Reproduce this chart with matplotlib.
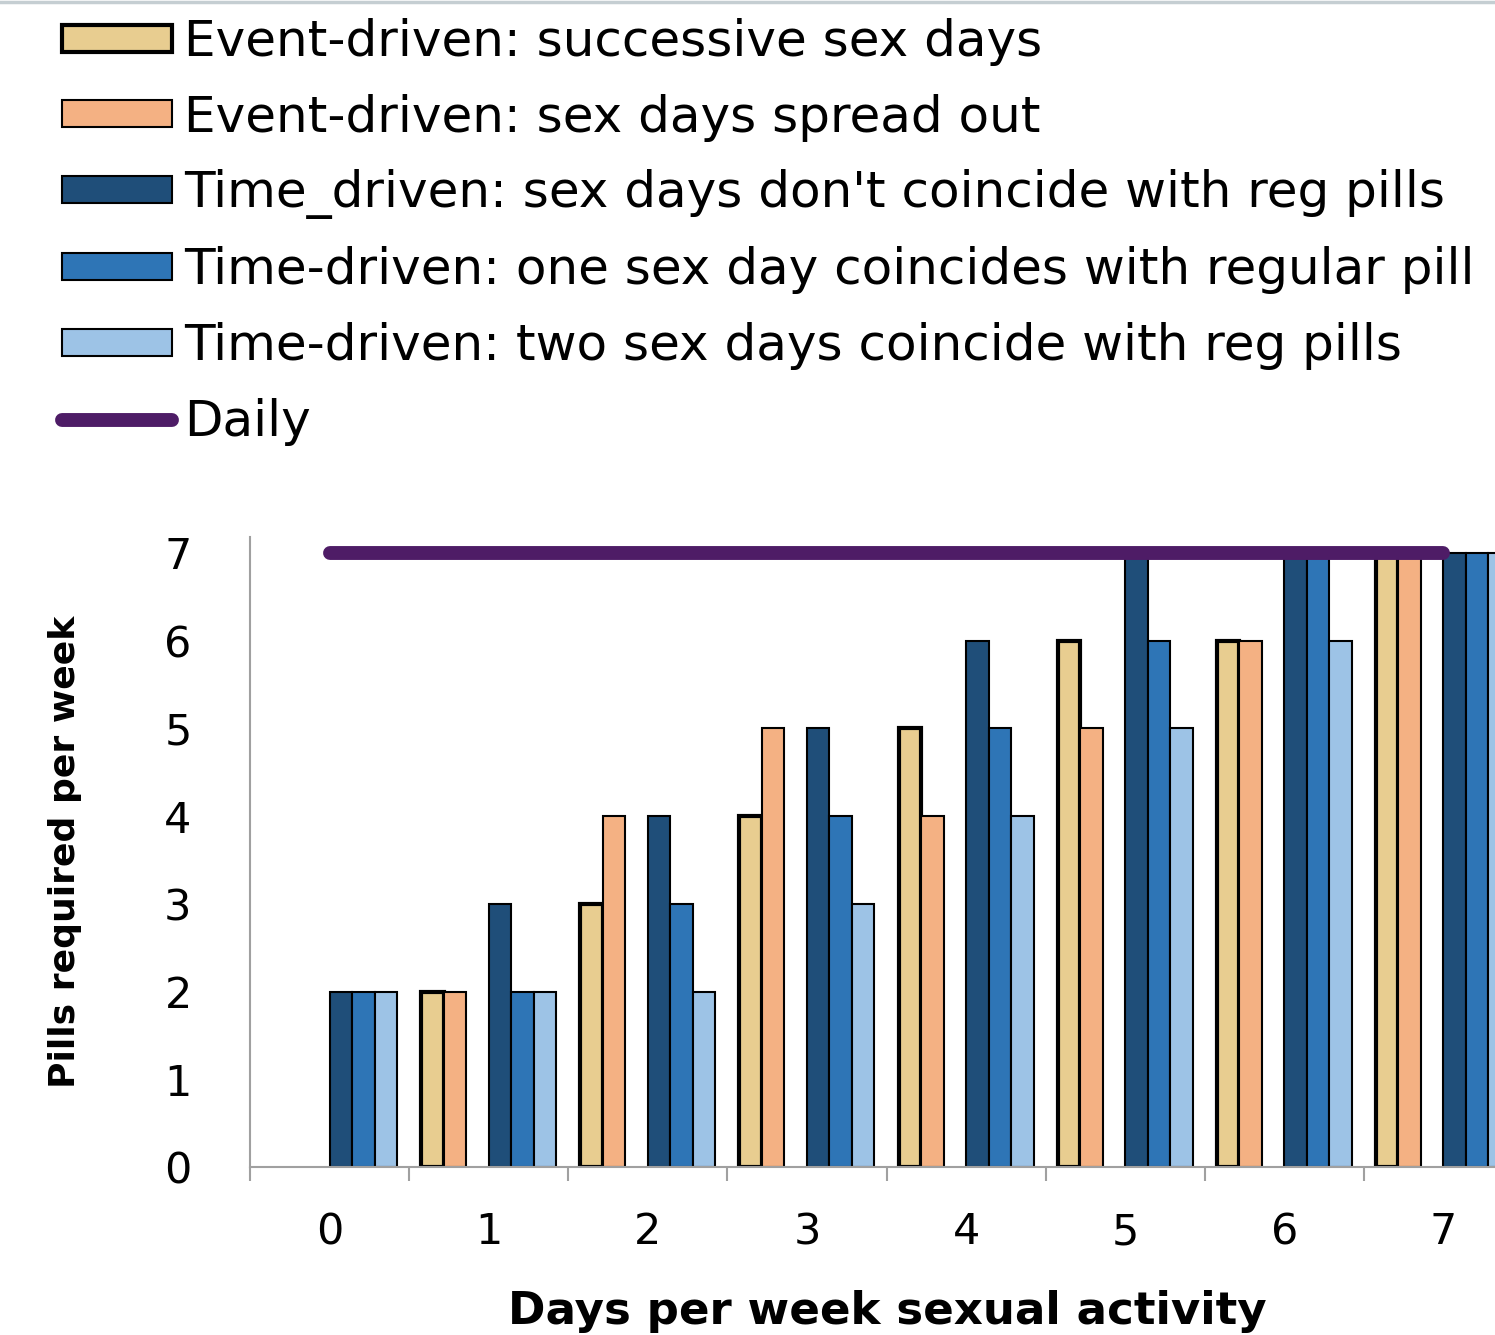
import matplotlib
matplotlib.use("Agg")
import matplotlib.pyplot as plt
import numpy as np
from matplotlib.lines import Line2D
from matplotlib.patches import Patch

# data
days = [0, 1, 2, 3, 4, 5, 6, 7]
successive = [0, 2, 3, 4, 5, 6, 6, 7]
spread_out = [0, 2, 4, 5, 4, 5, 6, 7]
no_coincide = [2, 3, 4, 5, 6, 7, 7, 7]
one_coincide = [2, 2, 3, 4, 5, 6, 7, 7]
two_coincide = [2, 2, 2, 3, 4, 5, 6, 7]
daily = [7, 7, 7, 7, 7, 7, 7, 7]

labels = [
    "Event-driven: successive sex days",
    "Event-driven: sex days spread out",
    "Time_driven: sex days don't coincide with reg pills",
    "Time-driven: one sex day coincides with regular pill",
    "Time-driven: two sex days coincide with reg pills",
    "Daily",
]
colors = ["#E8CD90", "#F4B183", "#1F4E79", "#2E75B6", "#9DC3E6"]
edge_widths = [3.0, 1.5, 1.5, 1.5, 1.5]
daily_color = "#4E1C66"

fig = plt.figure(figsize=(14.95, 13.35), dpi=100)
W, H = 1495, 1335

# axes run past the right edge, as in the cropped original
ax = fig.add_axes([250 / W, 168 / H, 1273 / W, 630 / H])

x = np.arange(len(days))
n_slots = 6
slot_w = 0.848 / n_slots
offsets = [-0.424 + slot_w * (i + 0.5) for i in range(n_slots)]
# slot 2 is left empty in the original layout
series = [successive, spread_out, None, no_coincide, one_coincide, two_coincide]

ci = 0
for slot, vals in enumerate(series):
    if vals is None:
        continue
    lws = [edge_widths[ci] if v > 0 else 0 for v in vals]
    ax.bar(x + offsets[slot], vals, width=slot_w, color=colors[ci],
           edgecolor="black", linewidth=lws, zorder=2)
    ci += 1

ax.plot(x, daily, color=daily_color, lw=10, solid_capstyle="round", zorder=3)

ax.set_xlim(-0.5, 7.5)
ax.set_ylim(0, 7.18)

for s in ["top", "right"]:
    ax.spines[s].set_visible(False)
ax.spines["left"].set_color("#A0A0A0")
ax.spines["bottom"].set_color("#A0A0A0")
ax.spines["left"].set_linewidth(1.5)
ax.spines["bottom"].set_linewidth(1.5)

ax.set_yticks(range(8))
ax.tick_params(axis="y", length=0, pad=42, labelsize=31)

ax.set_xticks(np.arange(-0.5, 8, 1.0))
ax.set_xticklabels([])
ax.tick_params(axis="x", which="major", length=10, width=1.5,
               color="#A0A0A0", direction="out")
ax.set_xticks(x, minor=True)
ax.set_xticklabels([str(d) for d in days], minor=True)
ax.tick_params(axis="x", which="minor", length=0, pad=32, labelsize=31)

ax.set_xlabel("Days per week sexual activity", fontsize=32.5,
              fontweight="bold")
ax.xaxis.set_label_coords((887 - 250) / 1273, -0.195)
ax.set_ylabel("Pills required per week", fontsize=26, fontweight="bold")
ax.yaxis.set_label_coords((82 - 250) / 1273, 0.5)

leg_handles = [Patch(facecolor=c, edgecolor="black", linewidth=lw)
               for c, lw in zip(colors, edge_widths)]
leg_handles.append(Line2D([0], [0], color=daily_color, lw=10,
                          solid_capstyle="round"))
fig.legend(leg_handles, labels, loc="upper left",
           bbox_to_anchor=(62 / W, 1 - 18 / H), frameon=False,
           fontsize=36, handlelength=2.2, handleheight=0.45,
           handletextpad=0.25, labelspacing=0.55, borderpad=0,
           borderaxespad=0)

# thin grey rule at the very top
fig.add_artist(Line2D([0, 1], [1 - 1.5 / H, 1 - 1.5 / H],
                      color="#C5CED2", lw=2.5))

fig.savefig("out.png", dpi=100)
